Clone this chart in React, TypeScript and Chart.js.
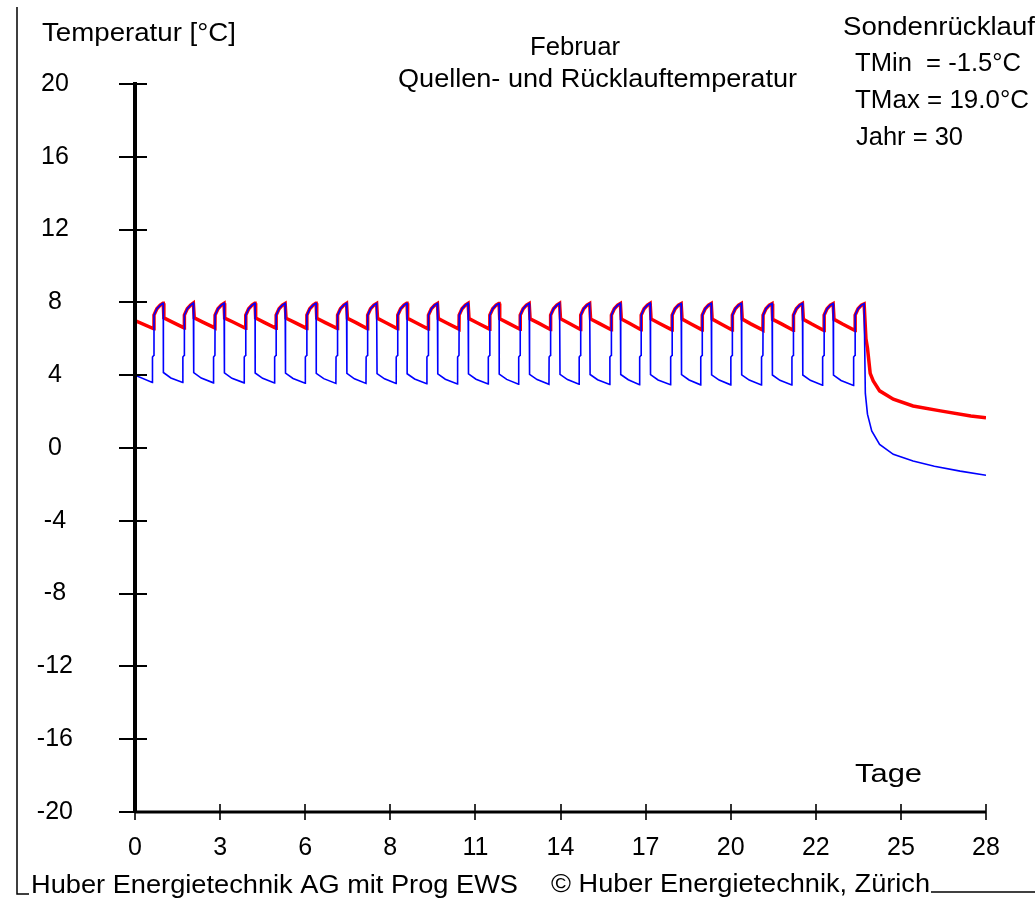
import React, { useEffect, useRef } from 'react';
import { Chart, registerables } from 'chart.js';

Chart.register(...registerables);

// ---- axes ----
const yMin = -20;
const yMax = 20;
const yStep = 4;
const xTickValues = [0, 2.8, 5.6, 8.4, 11.2, 14, 16.8, 19.6, 22.4, 25.2, 28];
const xTickLabels = ['0', '3', '6', '8', '11', '14', '17', '20', '22', '25', '28'];

// ---- daily pump cycles (days) ----
const riseDays = [0.57, 1.57, 2.58, 3.59, 4.59, 5.6, 6.61, 7.6, 8.59, 9.6, 10.61, 11.62, 12.62, 13.62, 14.61, 15.62, 16.6, 17.62, 18.61, 19.6, 20.61, 21.61, 22.62, 23.64];
const dropDays = [0.93, 1.93, 2.94, 3.95, 4.95, 5.96, 6.97, 7.96, 8.95, 9.96, 10.97, 11.98, 12.98, 13.98, 14.97, 15.98, 16.96, 17.98, 18.97, 19.96, 20.97, 21.97, 22.98, 24.0];

// values per cycle (°C)
const peakValues = [7.95, 7.96, 7.95, 7.95, 7.94, 7.95, 7.95, 7.94, 7.95, 7.94, 7.95, 7.94, 7.94, 7.95, 7.94, 7.94, 7.95, 7.93, 7.94, 7.94, 7.93, 7.94, 7.93, 7.92];
const blueLowEnd = [3.6, 3.6, 3.58, 3.58, 3.57, 3.56, 3.55, 3.55, 3.54, 3.53, 3.52, 3.52, 3.51, 3.5, 3.5, 3.49, 3.48, 3.48, 3.47, 3.47, 3.46, 3.46, 3.45, 3.44];
const blueAfterDrop = [4.15, 4.14, 4.13, 4.12, 4.11, 4.1, 4.1, 4.09, 4.08, 4.07, 4.07, 4.06, 4.05, 4.05, 4.04, 4.04, 4.03, 4.03, 4.02, 4.02, 4.01, 4.01, 4.0];
const blueMid = [3.85, 3.84, 3.83, 3.83, 3.82, 3.81, 3.8, 3.8, 3.79, 3.78, 3.78, 3.77, 3.76, 3.76, 3.75, 3.75, 3.74, 3.74, 3.73, 3.73, 3.72, 3.72, 3.71];
const redLowEnd = [6.55, 6.6, 6.6, 6.58, 6.58, 6.57, 6.56, 6.55, 6.55, 6.54, 6.53, 6.53, 6.52, 6.51, 6.51, 6.5, 6.5, 6.49, 6.49, 6.48, 6.48, 6.47, 6.46, 6.45];
const redAfterDrop = [7.15, 7.15, 7.14, 7.14, 7.13, 7.13, 7.12, 7.12, 7.12, 7.11, 7.11, 7.1, 7.1, 7.1, 7.09, 7.09, 7.09, 7.08, 7.08, 7.08, 7.07, 7.07, 7.07];
const redMid = [6.92, 6.92, 6.91, 6.9, 6.9, 6.89, 6.89, 6.88, 6.88, 6.87, 6.87, 6.86, 6.86, 6.85, 6.85, 6.84, 6.84, 6.83, 6.83, 6.82, 6.82, 6.81, 6.81];

// shape of the running phase, read from one cycle (day offset after rise, °C)
const riseOffsets = [0.005, 0.05, 0.055, 0.15, 0.26];
const riseBlue = [5.0, 5.1, 7.3, 7.65, 7.85];

const blueStart = 4.0;
const redStart = 7.0;

// recovery after the last cycle
const blueTailDays = [24.03, 24.1, 24.24, 24.5, 24.95, 25.6, 26.3, 27.15, 28];
const blueTailValues = [3.0, 1.86, 0.94, 0.2, -0.35, -0.72, -1.0, -1.27, -1.5];
const redTailDays = [24.05, 24.1, 24.19, 24.29, 24.5, 24.95, 25.6, 26.5, 27.5, 28];
const redTailValues = [6.0, 5.5, 4.1, 3.69, 3.14, 2.68, 2.31, 2.04, 1.76, 1.66];

type Pt = { x: number; y: number };

function buildBlue(): Pt[] {
  const pts: Pt[] = [{ x: 0, y: blueStart }];
  for (let i = 0; i < riseDays.length; i++) {
    pts.push({ x: riseDays[i], y: blueLowEnd[i] });
    for (let k = 0; k < riseOffsets.length; k++) pts.push({ x: riseDays[i] + riseOffsets[k], y: riseBlue[k] });
    pts.push({ x: dropDays[i] - 0.01, y: peakValues[i] });
    pts.push({ x: dropDays[i], y: peakValues[i] });
    if (i < blueAfterDrop.length) {
      pts.push({ x: dropDays[i] + 0.004, y: blueAfterDrop[i] });
      pts.push({ x: dropDays[i] + 0.25, y: blueMid[i] });
    }
  }
  blueTailDays.forEach((d, j) => pts.push({ x: d, y: blueTailValues[j] }));
  return pts;
}

function buildRed(): Pt[] {
  const pts: Pt[] = [{ x: 0, y: redStart }];
  for (let i = 0; i < riseDays.length; i++) {
    pts.push({ x: riseDays[i] + 0.05, y: redLowEnd[i] });
    for (let k = 2; k < riseOffsets.length; k++) pts.push({ x: riseDays[i] + riseOffsets[k], y: riseBlue[k] });
    pts.push({ x: dropDays[i] - 0.01, y: peakValues[i] });
    pts.push({ x: dropDays[i], y: peakValues[i] });
    if (i < redAfterDrop.length) {
      pts.push({ x: dropDays[i] + 0.02, y: redAfterDrop[i] });
      pts.push({ x: dropDays[i] + 0.3, y: redMid[i] });
    }
  }
  redTailDays.forEach((d, j) => pts.push({ x: d, y: redTailValues[j] }));
  return pts;
}

const FONT = '"Liberation Sans", Arial, sans-serif';

function drawFit(ctx: CanvasRenderingContext2D, text: string, x: number, y: number, w: number, size: number) {
  ctx.save();
  ctx.font = `${size}px ${FONT}`;
  const m = ctx.measureText(text).width;
  ctx.translate(x, y);
  ctx.scale(w / m, 1);
  ctx.textAlign = 'left';
  ctx.textBaseline = 'alphabetic';
  ctx.fillStyle = '#000';
  ctx.fillText(text, 0, 0);
  ctx.restore();
}

const axesPlugin = {
  id: 'ewsAxes',
  afterDatasetsDraw(chart: any) {
    const ctx: CanvasRenderingContext2D = chart.ctx;
    const xs = chart.scales.x;
    const ys = chart.scales.y;
    const x0 = xs.getPixelForValue(0);
    const x1 = xs.getPixelForValue(28);
    const yTop = ys.getPixelForValue(yMax);
    const yBot = ys.getPixelForValue(yMin);
    ctx.save();
    ctx.strokeStyle = '#000';
    // y ticks
    ctx.lineWidth = 2;
    ys.ticks.forEach((t: any) => {
      const py = Math.round(ys.getPixelForValue(t.value));
      ctx.beginPath();
      ctx.moveTo(x0 - 16, py);
      ctx.lineTo(x0 + 12, py);
      ctx.stroke();
    });
    // x ticks
    ctx.lineWidth = 1.6;
    xs.ticks.forEach((t: any) => {
      const px = Math.round(xs.getPixelForValue(t.value));
      ctx.beginPath();
      ctx.moveTo(px, yBot - 8);
      ctx.lineTo(px, yBot + 8);
      ctx.stroke();
    });
    // axis lines
    ctx.lineWidth = 4;
    ctx.beginPath();
    ctx.moveTo(x0, yTop - 2);
    ctx.lineTo(x0, yBot + 1);
    ctx.stroke();
    ctx.lineWidth = 3.2;
    ctx.beginPath();
    ctx.moveTo(x0, yBot);
    ctx.lineTo(x1, yBot);
    ctx.stroke();
    ctx.restore();
  },
};

const textPlugin = {
  id: 'ewsTexts',
  afterDraw(chart: any) {
    const ctx: CanvasRenderingContext2D = chart.ctx;
    const s = 25;
    drawFit(ctx, 'Temperatur [°C]', 42, 41, 194, s);
    drawFit(ctx, 'Februar', 530, 55, 90, s);
    drawFit(ctx, 'Quellen- und Rücklauftemperatur', 398, 87, 399, s);
    drawFit(ctx, 'Sondenrücklauf', 843, 35, 192, s);
    drawFit(ctx, 'TMin  = -1.5°C', 855, 71, 166, s);
    drawFit(ctx, 'TMax = 19.0°C', 855, 108, 174, s);
    drawFit(ctx, 'Jahr = 30', 856, 145, 107, s);
    drawFit(ctx, 'Tage', 855, 782, 67, s);
    drawFit(ctx, 'Huber Energietechnik AG mit Prog EWS', 31, 893, 487, s);
    drawFit(ctx, '© Huber Energietechnik, Zürich', 551, 892, 379, s);
    ctx.save();
    ctx.strokeStyle = '#000';
    ctx.lineWidth = 1.5;
    ctx.beginPath();
    ctx.moveTo(17, 7);
    ctx.lineTo(17, 894);
    ctx.lineTo(29, 894);
    ctx.stroke();
    ctx.beginPath();
    ctx.moveTo(931, 892);
    ctx.lineTo(1035, 892);
    ctx.stroke();
    ctx.restore();
  },
};

export default function App() {
  const ref = useRef<HTMLCanvasElement | null>(null);
  useEffect(() => {
    if (!ref.current) return;
    const tickFont = { family: FONT, size: 25 };
    const chart = new Chart(ref.current, {
      type: 'line',
      data: {
        datasets: [
          {
            label: 'Sondenrücklauf',
            data: buildBlue(),
            borderColor: '#0000ff',
            backgroundColor: '#0000ff',
            borderWidth: 1.6,
            pointRadius: 0,
            tension: 0,
            order: 0,
          },
          {
            label: 'Quellentemperatur',
            data: buildRed(),
            borderColor: '#ff0000',
            backgroundColor: '#ff0000',
            borderWidth: 3.5,
            pointRadius: 0,
            tension: 0,
            order: 1,
          },
        ],
      },
      options: {
        responsive: false,
        animation: false,
        layout: { padding: { left: 0, right: 49, top: 84, bottom: 26 } },
        plugins: {
          legend: { display: false },
          tooltip: { enabled: false },
          title: { display: false },
        },
        scales: {
          x: {
            type: 'linear',
            min: 0,
            max: 28,
            afterBuildTicks: (scale: any) => {
              scale.ticks = xTickValues.map((v) => ({ value: v }));
            },
            afterFit: (scale: any) => {
              scale.height = 60;
            },
            ticks: {
              callback: (_v: any, i: number) => xTickLabels[i],
              font: tickFont,
              color: '#000',
              padding: 21,
              maxRotation: 0,
              autoSkip: false,
            },
            grid: { display: false, drawTicks: false },
            border: { display: false },
          },
          y: {
            type: 'linear',
            min: yMin,
            max: yMax,
            afterFit: (scale: any) => {
              scale.width = 135;
            },
            ticks: {
              stepSize: yStep,
              font: tickFont,
              color: '#000',
              padding: 62,
              crossAlign: 'center',
            },
            grid: { display: false, drawTicks: false },
            border: { display: false },
          },
        },
      } as any,
      plugins: [axesPlugin, textPlugin],
    });
    return () => chart.destroy();
  }, []);
  return (
    <div style={{ position: 'fixed', left: 0, top: 0, width: 1035, height: 898, background: '#fff' }}>
      <canvas ref={ref} width={1035} height={898} style={{ display: 'block', width: 1035, height: 898 }} />
    </div>
  );
}
